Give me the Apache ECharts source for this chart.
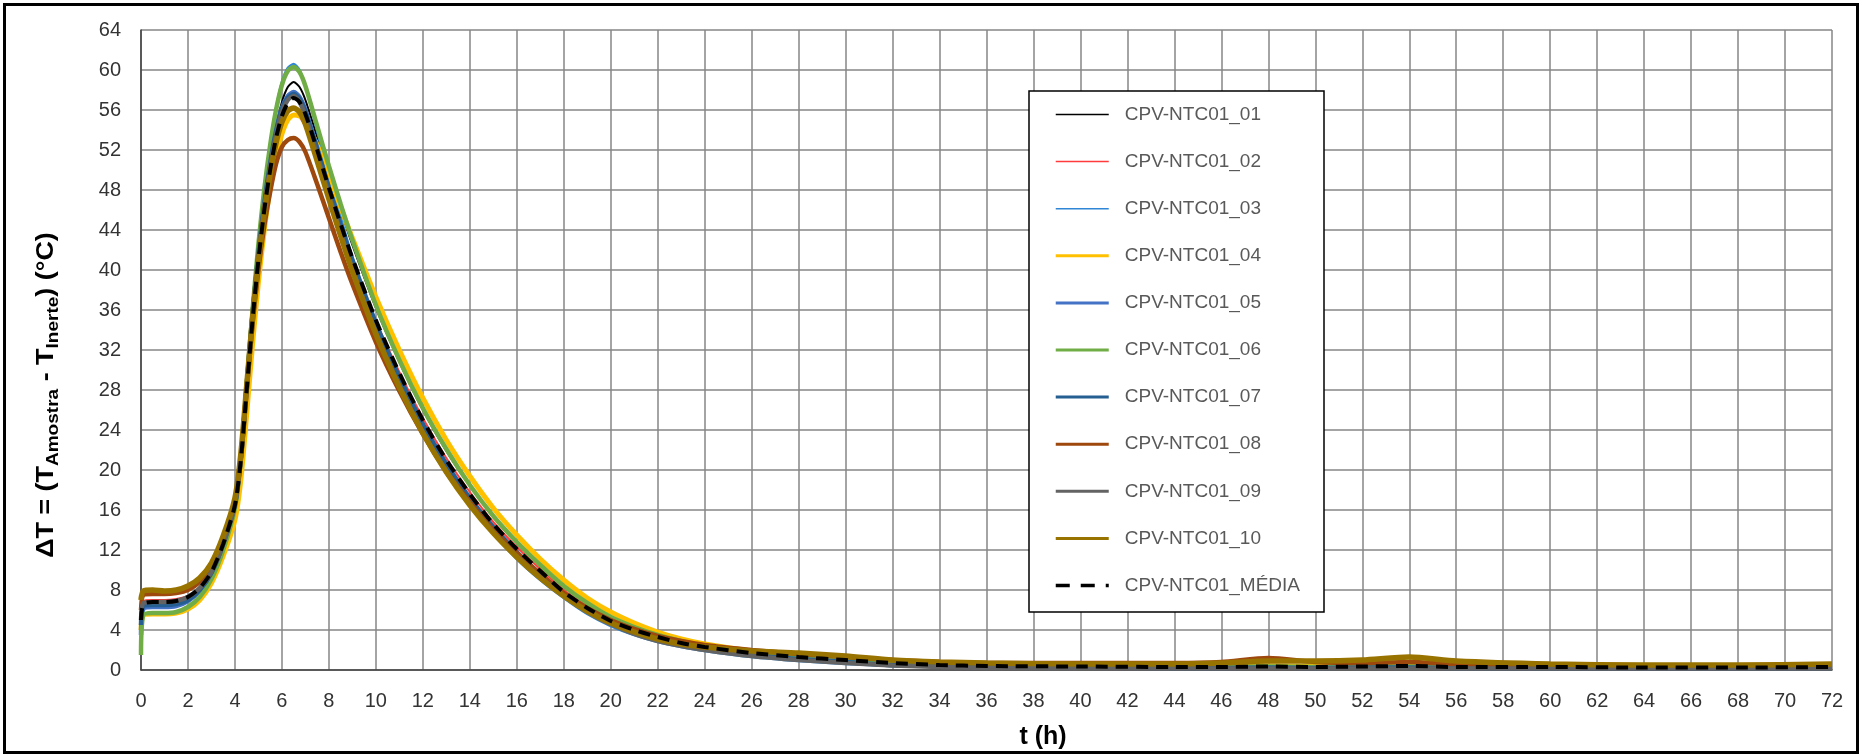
<!DOCTYPE html>
<html>
<head>
<meta charset="utf-8">
<title>CPV-NTC01 ΔT</title>
<script src="https://cdn.jsdelivr.net/npm/echarts@6/dist/echarts.min.js"></script>
<style>
  html, body { margin: 0; padding: 0; background: #fff; }
  #chart { width: 1862px; height: 756px; }
</style>
</head>
<body>
<div id="chart"></div>
<script>
// Time (h)
const hours = [0, 0.1, 0.5, 1, 1.5, 2, 2.5, 3, 3.5, 4, 4.25, 4.5, 4.75, 5, 5.25, 5.5, 5.75, 6, 6.25, 6.5,
  6.75, 7, 7.5, 8, 8.5, 9, 10, 11, 12, 13, 14, 15, 16, 17, 18, 19, 20, 21, 22, 23,
  24, 26, 28, 30, 32, 34, 36, 40, 44, 46, 48, 50, 52, 54, 56, 60, 64, 68, 72];

// ΔT (°C) per specimen
const ntc01 = [4.0, 6.4, 6.6, 6.6, 6.7, 7.1, 8.0, 9.6, 12.4, 16.3, 20.8, 27.8, 35.0, 41.3, 46.6, 50.8, 54.3, 56.8, 58.3, 58.8,
  58.3, 57.0, 53.3, 49.6, 46.0, 42.5, 36.2, 30.8, 26.0, 21.9, 18.4, 15.3, 12.7, 10.4, 8.3, 6.6, 5.3, 4.3, 3.5, 2.9,
  2.4, 1.7, 1.3, 0.9, 0.6, 0.45, 0.35, 0.3, 0.25, 0.25, 0.3, 0.25, 0.3, 0.3, 0.25, 0.2, 0.2, 0.2, 0.25];
const ntc02 = [5.5, 6.9, 7.0, 7.0, 7.1, 7.4, 8.2, 9.7, 12.4, 16.2, 20.5, 27.3, 34.2, 40.0, 44.8, 48.6, 51.8, 54.0, 55.2, 55.6,
  55.3, 54.3, 51.0, 47.6, 44.2, 40.9, 34.9, 29.8, 25.2, 21.2, 17.8, 14.8, 12.3, 10.1, 8.0, 6.4, 5.1, 4.1, 3.4, 2.8,
  2.4, 1.8, 1.4, 1.1, 0.8, 0.6, 0.5, 0.45, 0.45, 0.5, 0.5, 0.45, 0.5, 0.5, 0.4, 0.35, 0.35, 0.35, 0.4];
const ntc03 = [4.5, 6.2, 6.3, 6.3, 6.4, 6.9, 7.9, 9.6, 12.5, 16.6, 21.4, 28.8, 36.3, 42.8, 48.3, 52.6, 56.2, 58.8, 60.2, 60.6,
  60.0, 58.4, 53.9, 49.4, 45.3, 41.3, 34.5, 28.8, 23.9, 19.9, 16.5, 13.6, 11.1, 9.0, 7.2, 5.6, 4.4, 3.5, 2.8, 2.3,
  1.9, 1.3, 0.9, 0.6, 0.4, 0.3, 0.25, 0.2, 0.2, 0.2, 0.2, 0.2, 0.2, 0.2, 0.2, 0.2, 0.2, 0.2, 0.2];
const ntc04 = [4.0, 5.5, 5.6, 5.6, 5.7, 6.1, 7.0, 8.7, 11.4, 15.0, 19.0, 25.6, 32.6, 38.8, 44.0, 48.2, 51.4, 53.6, 55.0, 55.5,
  55.4, 54.9, 52.5, 49.5, 46.3, 43.2, 37.3, 32.0, 27.2, 23.0, 19.4, 16.2, 13.5, 11.1, 9.0, 7.2, 5.8, 4.7, 3.8, 3.1,
  2.6, 1.9, 1.4, 1.1, 0.8, 0.6, 0.5, 0.4, 0.35, 0.35, 0.4, 0.35, 0.4, 0.4, 0.35, 0.3, 0.3, 0.3, 0.35];
const ntc05 = [3.5, 6.1, 6.3, 6.3, 6.4, 6.9, 7.9, 9.6, 12.5, 16.5, 21.2, 28.4, 35.6, 41.7, 46.8, 50.8, 54.0, 56.2, 57.4, 57.8,
  57.3, 56.0, 52.2, 48.2, 44.4, 40.8, 34.4, 29.0, 24.3, 20.3, 17.0, 14.1, 11.6, 9.5, 7.5, 5.9, 4.6, 3.7, 3.0, 2.5,
  2.1, 1.5, 1.1, 0.8, 0.5, 0.4, 0.3, 0.25, 0.2, 0.2, 0.25, 0.2, 0.25, 0.25, 0.2, 0.2, 0.2, 0.2, 0.2];
const ntc06 = [1.5, 5.5, 5.7, 5.7, 5.8, 6.3, 7.3, 9.1, 12.0, 16.2, 21.0, 28.5, 36.0, 42.6, 48.1, 52.5, 56.0, 58.5, 59.9, 60.3,
  59.8, 58.4, 54.4, 50.4, 46.6, 43.0, 36.5, 31.0, 26.2, 22.1, 18.5, 15.4, 12.8, 10.5, 8.4, 6.7, 5.3, 4.3, 3.5, 2.9,
  2.4, 1.7, 1.3, 1.0, 0.7, 0.5, 0.4, 0.35, 0.3, 0.3, 0.35, 0.3, 0.35, 0.35, 0.3, 0.25, 0.25, 0.25, 0.3];
const ntc07 = [4.5, 6.4, 6.5, 6.5, 6.6, 7.0, 8.0, 9.7, 12.6, 16.6, 21.3, 28.5, 35.6, 41.7, 46.7, 50.7, 53.9, 56.1, 57.2, 57.6,
  57.1, 55.8, 52.1, 48.2, 44.5, 41.0, 34.7, 29.3, 24.6, 20.6, 17.2, 14.3, 11.8, 9.6, 7.6, 6.0, 4.7, 3.8, 3.1, 2.5,
  2.1, 1.5, 1.1, 0.8, 0.5, 0.4, 0.3, 0.25, 0.2, 0.2, 0.25, 0.2, 0.25, 0.25, 0.2, 0.2, 0.2, 0.2, 0.2];
const ntc08 = [6.0, 7.5, 7.6, 7.6, 7.7, 8.0, 8.8, 10.3, 13.0, 16.8, 21.2, 28.0, 34.6, 40.0, 44.4, 47.8, 50.6, 52.3, 53.0, 53.2,
  52.8, 51.8, 48.6, 45.2, 41.8, 38.6, 32.8, 27.9, 23.6, 19.9, 16.8, 14.0, 11.7, 9.6, 7.7, 6.2, 5.0, 4.1, 3.4, 2.9,
  2.5, 2.0, 1.6, 1.3, 1.0, 0.8, 0.7, 0.7, 0.7, 0.8, 1.2, 0.8, 0.7, 0.8, 0.6, 0.4, 0.35, 0.35, 0.45];
const ntc09 = [5.0, 6.7, 6.8, 6.8, 6.9, 7.3, 8.2, 9.8, 12.6, 16.5, 21.0, 28.0, 35.0, 41.2, 46.3, 50.3, 53.5, 55.8, 57.0, 57.4,
  56.8, 55.4, 51.5, 47.5, 43.7, 40.1, 33.7, 28.3, 23.7, 19.8, 16.6, 13.8, 11.4, 9.3, 7.4, 5.8, 4.6, 3.6, 2.9, 2.4,
  2.0, 1.4, 1.0, 0.7, 0.45, 0.3, 0.2, 0.15, 0.15, 0.15, 0.15, 0.15, 0.15, 0.15, 0.15, 0.15, 0.15, 0.15, 0.15];
const ntc10 = [7.0, 7.9, 8.0, 7.9, 8.0, 8.4, 9.2, 10.7, 13.4, 17.2, 21.6, 28.4, 35.2, 40.9, 45.7, 49.6, 52.7, 54.8, 55.9, 56.2,
  55.8, 54.6, 50.9, 47.1, 43.4, 39.9, 33.6, 28.3, 23.7, 19.8, 16.5, 13.7, 11.3, 9.2, 7.4, 5.9, 4.7, 3.8, 3.1, 2.6,
  2.3, 1.9, 1.7, 1.4, 1.0, 0.8, 0.7, 0.6, 0.6, 0.7, 0.9, 0.9, 1.0, 1.3, 0.9, 0.6, 0.5, 0.5, 0.6];
const ntcMedia = [5.0, 6.6, 6.8, 6.8, 6.9, 7.3, 8.2, 9.8, 12.6, 16.5, 21.0, 28.0, 35.0, 41.0, 46.0, 50.0, 53.2, 55.4, 56.7, 57.2,
  56.8, 55.6, 52.0, 48.2, 44.6, 41.2, 35.0, 29.7, 25.0, 21.0, 17.6, 14.6, 12.1, 9.9, 7.8, 6.2, 4.9, 4.0, 3.3, 2.7,
  2.3, 1.7, 1.3, 1.0, 0.7, 0.5, 0.4, 0.35, 0.3, 0.3, 0.35, 0.3, 0.35, 0.4, 0.3, 0.3, 0.25, 0.25, 0.3];

const seriesNames = ['CPV-NTC01_01', 'CPV-NTC01_02', 'CPV-NTC01_03', 'CPV-NTC01_04', 'CPV-NTC01_05',
  'CPV-NTC01_06', 'CPV-NTC01_07', 'CPV-NTC01_08', 'CPV-NTC01_09', 'CPV-NTC01_10', 'CPV-NTC01_MÉDIA'];
const seriesValues = [ntc01, ntc02, ntc03, ntc04, ntc05, ntc06, ntc07, ntc08, ntc09, ntc10, ntcMedia];
const seriesColors = ['#000000', '#FF3B3B', '#2F86D6', '#FFC000', '#4472C4', '#70AD47', '#255E91', '#9E480E', '#636363', '#997300', '#000000'];

// line widths: plotted traces (noisy logger data reads as thick bands) and legend samples
const plotWidths = [2, 2, 2.5, 5, 4.5, 4.5, 4.5, 4.5, 4.5, 5.5, 4];
const legendWidths = [1.5, 1.5, 1.5, 3, 3, 3, 3, 3, 3, 3, 3.5];

const chart = echarts.init(document.getElementById('chart'), null, { renderer: 'canvas' });

const series = seriesNames.map((name, i) => ({
  name,
  type: 'line',
  data: hours.map((t, k) => [t, seriesValues[i][k]]),
  symbol: 'none',
  showSymbol: false,
  smooth: 0.25,
  color: seriesColors[i],
  lineStyle: {
    color: seriesColors[i],
    width: plotWidths[i],
    type: i === 10 ? [12, 8] : 'solid'
  },
  z: 2 + i * 0.01
}));

// legend samples: plain line, no marker
const legendData = seriesNames.map((name, i) => ({
  name,
  itemStyle: { color: 'rgba(0,0,0,0)', borderColor: 'rgba(0,0,0,0)', borderWidth: 0 },
  lineStyle: { color: seriesColors[i], width: legendWidths[i], type: i === 10 ? [14, 11] : 'solid' }
}));

chart.setOption({
  animation: false,
  backgroundColor: '#ffffff',
  textStyle: { fontFamily: 'Liberation Sans, Arial, sans-serif' },
  grid: { left: 141, right: 30, top: 30, bottom: 86, containLabel: false },
  xAxis: {
    type: 'value', min: 0, max: 72, interval: 2,
    axisLine: { show: true, onZero: false, lineStyle: { color: '#404040', width: 1.5 } },
    axisTick: { show: false },
    axisLabel: { color: '#333333', fontSize: 20, margin: 21 },
    splitLine: { show: true, lineStyle: { color: '#868686', width: 1.5 } }
  },
  yAxis: {
    type: 'value', min: 0, max: 64, interval: 4,
    axisLine: { show: true, lineStyle: { color: '#404040', width: 1.5 } },
    axisTick: { show: false },
    axisLabel: { color: '#333333', fontSize: 20, margin: 20 },
    splitLine: { show: true, lineStyle: { color: '#868686', width: 1.5 } }
  },
  legend: {
    orient: 'vertical',
    left: 1054, top: 105,
    padding: 0,
    itemWidth: 53, itemHeight: 20, itemGap: 28.1,
    itemStyle: { color: 'rgba(0,0,0,0)', borderColor: 'rgba(0,0,0,0)', borderWidth: 0 },
    textStyle: { color: '#595959', fontSize: 19, padding: [0, 0, 0, 11], fontFamily: 'Liberation Sans, Arial, sans-serif' },
    data: legendData,
    z: 10
  },
  graphic: [
    {
      type: 'rect', z: 5,
      shape: { x: 1029, y: 91, width: 295, height: 521 },
      style: { fill: '#ffffff', stroke: '#000000', lineWidth: 1.5 }
    },
    {
      type: 'rect', z: 0, silent: true,
      shape: { x: 4.5, y: 4.5, width: 1853, height: 748 },
      style: { fill: 'none', stroke: '#000000', lineWidth: 3 }
    },
    {
      type: 'text', z: 5,
      x: 1043, y: 737,
      style: {
        text: 't (h)', fill: '#000000', fontSize: 25, fontWeight: 'bold',
        fontFamily: 'Liberation Sans, Arial, sans-serif', align: 'center', verticalAlign: 'middle'
      }
    },
    {
      type: 'text', z: 5,
      x: 46, y: 395, rotation: Math.PI / 2, scaleX: 1.12,
      style: {
        text: '{m|ΔT = (T}{s|Amostra}{m| - T}{s|Inerte}{m|) (°C)}',
        align: 'center', verticalAlign: 'middle',
        rich: {
          m: { fontSize: 24, fontWeight: 'bold', lineHeight: 32, verticalAlign: 'middle', fill: '#000', fontFamily: 'Liberation Sans, Arial, sans-serif' },
          s: { fontSize: 17, fontWeight: 'bold', lineHeight: 17, verticalAlign: 'bottom', fill: '#000', fontFamily: 'Liberation Sans, Arial, sans-serif' }
        }
      }
    }
  ],
  series
});
</script>
</body>
</html>
